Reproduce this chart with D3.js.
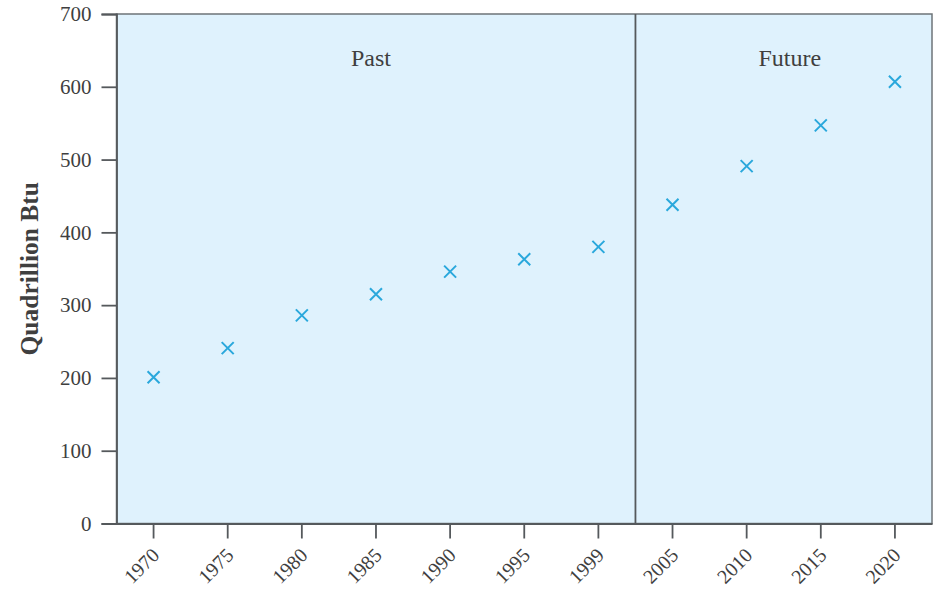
<!DOCTYPE html>
<html>
<head>
<meta charset="utf-8">
<script src="https://cdn.jsdelivr.net/npm/d3@7"></script>
<style>
  body { margin: 0; background: #fff; }
  svg { display: block; }
</style>
</head>
<body>
<svg id="chart" width="940" height="590"></svg>
<script>
const years = ["1970","1975","1980","1985","1990","1995","1999","2005","2010","2015","2020"];
const values = [201, 241, 286, 315, 346, 363, 380, 438, 491, 547, 607];
const yTicks = [0, 100, 200, 300, 400, 500, 600, 700];
const periods = ["Past", "Future"];
const periodStart = ["1970", "2005"];
const periodEnd = ["1999", "2020"];

const svg = d3.select("#chart");
const margin = {left: 116.5, right: 8, top: 14, bottom: 66.5};
const W = 940, H = 590;
const x = d3.scaleBand().domain(years).range([margin.left, W - margin.right]).padding(0);
const y = d3.scaleLinear().domain([0, 700]).range([H - margin.bottom, margin.top]);

const serif = "'Liberation Serif', 'DejaVu Serif', serif";
const axisColor = "#55595c";
const textColor = "#3f3f3f";

// background
svg.append("rect")
  .attr("x", x.range()[0]).attr("y", y(700))
  .attr("width", x.range()[1] - x.range()[0]).attr("height", y(0) - y(700))
  .attr("fill", "#dff2fd")
  .attr("stroke", "#6e7478").attr("stroke-width", 1.5);

// divider
const divX = x(periodStart[1]);
svg.append("line")
  .attr("x1", divX).attr("x2", divX).attr("y1", y(700)).attr("y2", y(0))
  .attr("stroke", axisColor).attr("stroke-width", 1.8);

// period labels
const labelOffsets = [-5, 6];
periods.forEach((p, i) => {
  const cx = (x(periodStart[i]) + x(periodEnd[i]) + x.bandwidth()) / 2 + labelOffsets[i];
  svg.append("text")
    .attr("x", cx).attr("y", 66)
    .attr("text-anchor", "middle")
    .attr("font-family", serif).attr("font-size", 24)
    .attr("fill", textColor)
    .text(p);
});

// y axis
const yAxis = svg.append("g")
  .attr("transform", `translate(${margin.left},0)`)
  .call(d3.axisLeft(y).tickValues(yTicks).tickSize(15).tickPadding(10));
yAxis.select(".domain").attr("stroke", axisColor).attr("stroke-width", 1.8);
yAxis.selectAll(".tick line").attr("stroke", axisColor).attr("stroke-width", 1.8);
yAxis.selectAll(".tick text")
  .attr("font-family", serif).attr("font-size", 21).attr("fill", textColor);

// x axis
const xAxis = svg.append("g")
  .attr("transform", `translate(0,${y(0)})`)
  .call(d3.axisBottom(x).tickSize(15).tickSizeOuter(0));
xAxis.select(".domain").attr("stroke", axisColor).attr("stroke-width", 1.8);
xAxis.selectAll(".tick line").attr("stroke", axisColor).attr("stroke-width", 1.8);
xAxis.selectAll(".tick text")
  .attr("font-family", serif).attr("font-size", 20).attr("fill", textColor)
  .attr("text-anchor", "end")
  .attr("x", 0).attr("y", 0).attr("dx", 0).attr("dy", 0)
  .attr("transform", "translate(7,33) rotate(-45)");

// y title
svg.append("text")
  .attr("transform", `translate(38,${(y(0) + y(700)) / 2}) rotate(-90)`)
  .attr("text-anchor", "middle")
  .attr("font-family", serif).attr("font-size", 25.5).attr("font-weight", "bold")
  .attr("fill", textColor)
  .text("Quadrillion Btu");

// markers
const s = 6;
const marks = svg.append("g").attr("stroke", "#2aa8dc").attr("stroke-width", 2).attr("fill", "none");
years.forEach((yr, i) => {
  const cx = x(yr) + x.bandwidth() / 2, cy = y(values[i]);
  marks.append("path")
    .attr("d", `M${cx - s},${cy - s}L${cx + s},${cy + s}M${cx - s},${cy + s}L${cx + s},${cy - s}`);
});
</script>
</body>
</html>
